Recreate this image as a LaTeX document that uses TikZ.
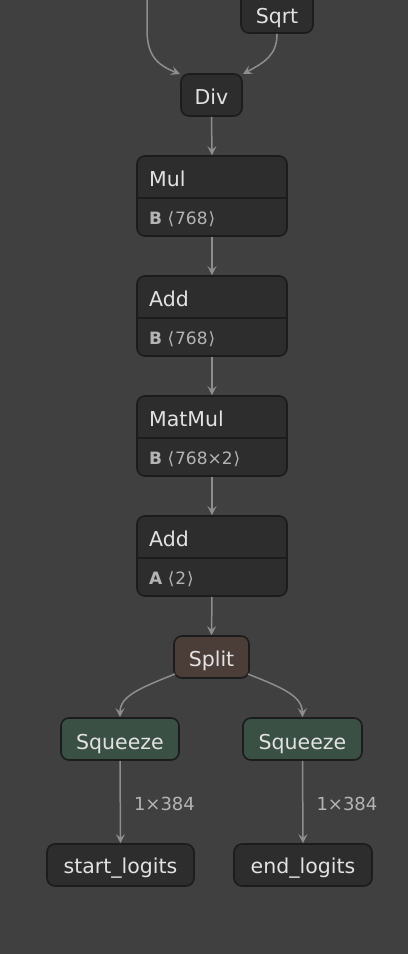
\documentclass[tikz,border=0pt]{standalone}
\usepackage{fontspec}
\setmainfont{DejaVu Sans}
\newfontfamily\djv{DejaVu Sans}
\usetikzlibrary{arrows.meta}
\definecolor{bgc}{HTML}{404040}
\definecolor{nodefill}{HTML}{2D2D2D}
\definecolor{nodeline}{HTML}{1C1C1C}
\definecolor{txt}{HTML}{E2E2E2}
\definecolor{subtxt}{HTML}{B4B4B4}
\definecolor{edgec}{HTML}{8E8E8E}
\definecolor{splitfill}{HTML}{4B3E38}
\definecolor{sqzfill}{HTML}{3B5045}
\tikzset{
  x=1pt,y=1pt,
  opbox/.style={draw=nodeline, line width=1.6pt, fill=nodefill, rounded corners=8pt, inner sep=0pt},
  divline/.style={draw=nodeline, line width=1.6pt},
  ttl/.style={text=txt, font=\fontsize{20.5}{24}\selectfont, inner sep=0pt, anchor=base},
  attr/.style={text=subtxt, font=\fontsize{17}{20}\selectfont, inner sep=0pt, anchor=base west},
  elabel/.style={text=subtxt, font=\fontsize{18}{21}\selectfont, inner sep=0pt},
  edge/.style={draw=edgec, line width=1.5pt, -{Stealth[length=9pt,width=9pt,inset=3.5pt]}},
}
\newcommand{\angl}{\char"27E8\kern1pt}
\newcommand{\angr}{\kern1pt\char"27E9}
\begin{document}
\begin{tikzpicture}
\fill[bgc] (0,0) rectangle (408,-954);
\useasboundingbox (0,0) rectangle (408,-954);

% Sqrt (cut off at top)
\node[opbox, minimum width=72, minimum height=48] (sqrt) at (277,-9) {};
\node[ttl] (sqrtt) at (277,-23) {Sqrt};

% Div
\node[opbox, minimum width=61, minimum height=42] (div) at (211.5,-95) {};
\node[ttl] (divt) at (211.5,-104) {Div};

% Mul
\node[opbox, minimum width=150, minimum height=80] (mul) at (212,-196) {};
\draw[divline] (137,-198) -- (287,-198);
\node[ttl, anchor=base west] (mult) at (149,-186) {Mul};
\node[attr] (mula) at (149,-224) {\textbf{B} \angl768\angr};

% Add 1
\node[opbox, minimum width=150, minimum height=80] (add1) at (212,-316) {};
\draw[divline] (137,-318) -- (287,-318);
\node[ttl, anchor=base west] (add1t) at (149,-306) {Add};
\node[attr] (add1a) at (149,-344) {\textbf{B} \angl768\angr};

% MatMul
\node[opbox, minimum width=150, minimum height=80] (mm) at (212,-436) {};
\draw[divline] (137,-438) -- (287,-438);
\node[ttl, anchor=base west] (mmt) at (149,-426) {MatMul};
\node[attr] (mma) at (149,-464) {\textbf{B} \angl768×2\angr};

% Add 2
\node[opbox, minimum width=150, minimum height=80] (add2) at (212,-556) {};
\draw[divline] (137,-558) -- (287,-558);
\node[ttl, anchor=base west] (add2t) at (149,-546) {Add};
\node[attr] (add2a) at (149,-584) {\textbf{A} \angl2\angr};

% Split
\node[opbox, fill=splitfill, minimum width=75, minimum height=42] (split) at (211.5,-657) {};
\node[ttl] (splitt) at (211.5,-666) {Split};

% Squeeze
\node[opbox, fill=sqzfill, minimum width=118, minimum height=42] (sqL) at (120,-739) {};
\node[ttl] (sqLt) at (120,-749) {Squeeze};
\node[opbox, fill=sqzfill, minimum width=119, minimum height=42] (sqR) at (302.5,-739) {};
\node[ttl] (sqRt) at (302.5,-749) {Squeeze};

% Outputs
\node[opbox, minimum width=147, minimum height=42] (outL) at (120.5,-865) {};
\node[ttl] (outLt) at (120.5,-873) {start\_logits};
\node[opbox, minimum width=138, minimum height=42] (outR) at (303,-865) {};
\node[ttl] (outRt) at (303,-873) {end\_logits};

% Edges
\coordinate (topin) at (147,2);
\coordinate (divinL) at (180,-74);
\coordinate (divinR) at (243,-74);
\draw[edge] (topin) -- (147,-30) .. controls (147,-58) and (160,-66) .. (divinL);
\draw[edge] (sqrt.south) .. controls (277,-55) and (265,-62) .. (divinR);
\draw[edge] (div.south) -- (mul.north);
\draw[edge] (mul.south) -- (add1.north);
\draw[edge] (add1.south) -- (mm.north);
\draw[edge] (mm.south) -- (add2.north);
\draw[edge] (add2.south) -- (split.north);
\coordinate (splL) at (175,-674);
\coordinate (splR) at (248,-674);
\draw[edge] (splL) .. controls (140,-688) and (120,-696) .. (sqL.north);
\draw[edge] (splR) .. controls (283,-688) and (302,-696) .. (sqR.north);
\draw[edge] (sqL.south) -- node[elabel, anchor=base west, pos=0.5, xshift=13pt, yshift=-8pt] (lblL) {1×384} (outL.north);
\draw[edge] (sqR.south) -- node[elabel, anchor=base west, pos=0.5, xshift=13pt, yshift=-8pt] (lblR) {1×384} (outR.north);
\end{tikzpicture}
\end{document}
